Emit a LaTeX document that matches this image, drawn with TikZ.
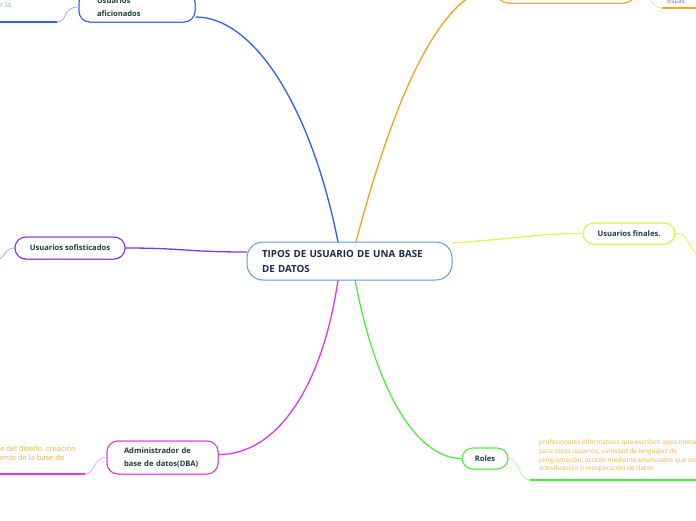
\documentclass[tikz,border=0pt]{standalone}
\usepackage{fontspec}
\setmainfont{Open Sans}
\usetikzlibrary{calc}
\definecolor{cblue}{HTML}{2B5FF2}
\definecolor{corange}{HTML}{F7A21B}
\definecolor{cpurple}{HTML}{7B35F0}
\definecolor{cyellow}{HTML}{DCF23C}
\definecolor{cmagenta}{HTML}{E535E8}
\definecolor{cgreen}{HTML}{4CF03C}
\definecolor{ctext}{HTML}{1D3D3A}
\definecolor{cnavy}{HTML}{1B2A4E}
\definecolor{cborder}{HTML}{5A9BD8}
\definecolor{cnote}{HTML}{F5B041}
\definecolor{cnotegreen}{HTML}{6FD08C}
\definecolor{cnotepurple}{HTML}{8A5CC0}
\tikzset{
  topic/.style={draw, fill=white, rounded corners=11pt, line width=1pt, text=ctext,
    font=\fontsize{7.6}{12.5}\selectfont\bfseries, inner sep=0pt},
  central/.style={draw=cborder, fill=white, rounded corners=16pt, line width=1pt, text=cnavy,
    font=\fontsize{9.8}{15}\selectfont\bfseries, align=left, text width=175pt,
    inner xsep=15pt, inner ysep=0pt, minimum height=38pt, minimum width=205pt},
  branch/.style={line width=1.3pt},
  sub/.style={line width=0.7pt},
  underline/.style={line width=1.6pt},
  note/.style={inner sep=0pt, anchor=west, align=left, font=\fontsize{7.5}{8.8}\selectfont},
  smallnote/.style={note, font=\fontsize{6.5}{8.7}\selectfont}
}
\begin{document}
\begin{tikzpicture}[x=1pt,y=-1pt]
\useasboundingbox (0,0) rectangle (696,520);
\clip (0,0) rectangle (696,520);
\coordinate (cN1) at (338,242);
\coordinate (cN2) at (356,242);
\coordinate (cS1) at (338,280);
\coordinate (cS2) at (355,280);
\coordinate (cW) at (247,252);
\coordinate (cE) at (452,243);

% topic nodes (first pass, to have names for connectors)
\node[topic, draw=cblue, minimum width=116pt, minimum height=30pt, text width=80pt, align=left] (af) at (137,7) {Usuarios\\aficionados};
\node[topic, draw=corange, minimum width=138pt, minimum height=30pt] (og) at (566,-12) {};
\node[topic, draw=cpurple, minimum width=110pt, minimum height=22pt] (so) at (70,248) {Usuarios sofisticados};
\node[topic, draw=cyellow, minimum width=92pt, minimum height=21pt] (fi) at (629,233.5) {Usuarios finales.};
\node[topic, draw=cmagenta, minimum width=111pt, minimum height=33pt, text width=77pt, align=left] (db) at (162.5,457.5) {Administrador de\\base de datos(DBA)};
\node[topic, draw=cgreen, minimum width=46pt, minimum height=21pt] (ro) at (485,458.5) {Roles};

% main branches
\draw[branch, cblue] (cN1) .. controls (312,110) and (255,17) .. ($(af.east)+(0,10)$);
\draw[branch, corange] (cN2) .. controls (380,150) and (430,-12) .. (og.west);
\draw[branch, cpurple] (cW) .. controls (185,252) and (185,248) .. (so.east);
\draw[branch, cyellow!85!white] (cE) .. controls (525,238) and (535,233.5) .. (fi.west);
\draw[branch, cmagenta] (cS1) .. controls (322,390) and (275,455) .. ($(db.east)+(0,-3)$);
\draw[branch, cgreen] (cS2) .. controls (378,400) and (420,458.5) .. (ro.west);

\node[central] (c) at (349.5,261) {TIPOS DE USUARIO DE UNA BASE\\DE DATOS};
% redraw topic nodes on top of branches
\node[topic, draw=cblue, minimum width=116pt, minimum height=30pt, text width=80pt, align=left] at (af) {Usuarios\\aficionados};
\node[topic, draw=corange, minimum width=138pt, minimum height=30pt] at (og) {};
\node[topic, draw=cpurple, minimum width=110pt, minimum height=22pt] at (so) {Usuarios sofisticados};
\node[topic, draw=cyellow, minimum width=92pt, minimum height=21pt] at (fi) {Usuarios finales.};
\node[topic, draw=cmagenta, minimum width=111pt, minimum height=33pt, text width=77pt, align=left] at (db) {Administrador de\\base de datos(DBA)};
\node[topic, draw=cgreen, minimum width=46pt, minimum height=21pt] at (ro) {Roles};

% sub connectors and underlines
\coordinate (afu) at (57,22);
\coordinate (afe) at (-2,22);
\draw[sub, cblue!55] (af.west) .. controls (62,7) and (68,22) .. (afu);
\draw[underline, cblue] (afu) -- (afe);

\coordinate (ogu) at (662,8);
\coordinate (oge) at (698,8);
\draw[sub, corange!45] (og.east) .. controls (652,-12) and (648,8) .. (ogu);
\draw[underline, corange] (ogu) -- (oge);

\coordinate (sou) at (-2,260);
\draw[sub, cpurple!50] (so.west) .. controls (5,248) and (6,256) .. (sou);

\coordinate (fiu) at (700,260);
\draw[sub, cyellow] (fi.east) .. controls (688,233) and (684,240) .. (fiu);

\coordinate (dbu) at (85,474);
\coordinate (dbe) at (-2,474);
\draw[sub, cmagenta!50] (db.west) .. controls (92,457.5) and (96,474) .. (dbu);
\draw[underline, cmagenta] (dbu) -- (dbe);

\coordinate (rou) at (530,480);
\coordinate (roe) at (698,480);
\draw[sub, cgreen!50] (ro.east) .. controls (520,458.5) and (518,480) .. (rou);
\draw[underline, cgreen] (rou) -- (roe);

% notes
\node[note, text=cnotegreen] (n1) at (0,5) {r la};
\node[note, text=cnotepurple] (n2) at (667,1) {listas};
\node[note, text=cnote] (n3) at (0,453.5) {e del diseño, creación\\ento de la base de};
\node[smallnote, text=cnote] (n4) at (539,456) {profesionales informáticos que escriben apps interactivas\\para otros usuarios, variedad de lenguajes de\\programación, accede mediante enunciados que solicitan\\actualización o recuperación de datos};
\end{tikzpicture}
\end{document}
